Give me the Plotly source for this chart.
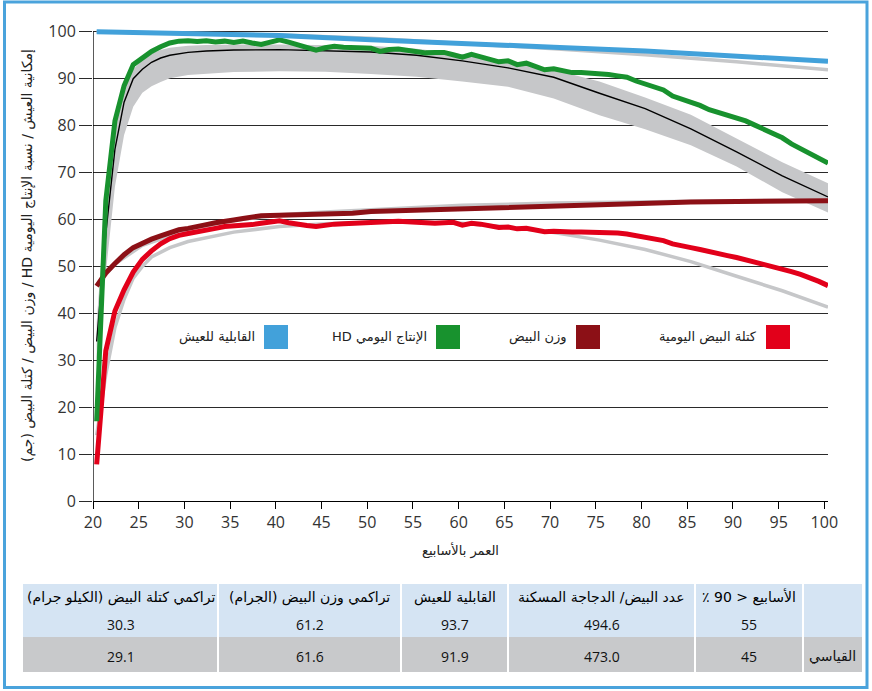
import plotly.graph_objects as go

# --- data (age in weeks) ---
weeks = list(range(20, 101))

hd_pct = [17, 64, 81, 88.5, 93, 94.5, 95.8, 96.8, 97.6, 98.0,
          98.1, 97.9, 98.1, 97.8, 98.0, 97.7, 98.0, 97.6, 97.3, 97.8,
          98.3, 97.8, 97.2, 96.7, 96.1, 96.6, 96.9, 96.7, 96.7, 96.6,
          96.5, 95.8, 96.2, 96.3, 96.0, 95.7, 95.5, 95.6, 95.6, 95.1,
          94.6, 95.2, 94.6, 94.0, 93.6, 93.8, 93.0, 93.3, 92.6, 91.9,
          92.1, 91.7, 91.3, 91.3, 91.2, 91.2, 90.9, 90.6, 90.3, 89.5,
          88.9, 88.3, 87.6, 86.3, 85.6, 85.1, 84.3, 83.4, 82.8, 82.4,
          81.8, 81.0, 80.1, 79.2, 78.3, 77.4, 76.1, 75.1, 74.3, 73.2,
          72.0]

egg_mass = [7.8, 32.0, 40.5, 45.0, 48.8, 51.5, 53.3, 54.8, 55.9, 56.6,
            57.0, 57.3, 57.7, 58.1, 58.5, 58.6, 58.8, 58.9, 59.2, 59.5,
            59.7, 59.3, 58.9, 58.7, 58.5, 58.8, 59.0, 59.1, 59.2, 59.1,
            59.3, 59.4, 59.6, 59.6, 59.5, 59.3, 59.3, 59.2, 59.3, 59.4,
            58.8, 59.2, 59.0, 58.6, 58.3, 58.4, 58.0, 58.1, 57.8, 57.4,
            57.5, 57.3, 57.3, 57.3, 57.3, 57.3, 57.2, 57.1, 56.9, 56.6,
            56.2, 55.9, 55.5, 54.8, 54.3, 54.0, 53.6, 53.1, 52.7, 52.3,
            51.9, 51.4, 51.0, 50.6, 50.0, 49.5, 48.9, 48.3, 47.6, 46.8,
            45.9]

ew_weeks = [20, 21, 22, 23, 24, 25, 26, 27, 28, 29, 30, 31, 32, 33, 34, 35, 36, 37, 38,
            40, 45, 48, 50, 55, 60, 65, 70, 75, 80, 85, 90, 95, 100]
egg_weight = [45.8, 48.6, 50.6, 52.5, 54.0, 55.0, 55.8, 56.5, 57.2, 57.8, 58.1, 58.4,
              58.9, 59.3, 59.7, 59.9, 60.2, 60.5, 60.8, 60.9, 61.1, 61.3, 61.7, 62.0,
              62.2, 62.5, 62.9, 63.2, 63.5, 63.7, 63.8, 63.9, 64.0]

liv_weeks = [20, 30, 40, 50, 60, 70, 80, 90, 100]
livability = [100, 99.6, 99.2, 98.3, 97.4, 96.7, 95.9, 94.9, 93.7]

# standard (gray) curves
std_liv = [100, 99.7, 99.3, 98.6, 97.5, 96.4, 95.1, 93.6, 91.9]

std_ew_weeks = [20, 22, 25, 30, 35, 40, 45, 50, 55, 60, 70, 80, 90, 100]
std_egg_weight = [46, 50.5, 54.5, 57.8, 59.8, 61.0, 61.6, 62.1, 62.6, 63.0, 63.5, 63.8, 64.0, 64.2]

std_em_weeks = [20, 21, 22, 23, 24, 25, 26, 28, 30, 35, 40, 45, 50, 55, 60, 65, 70, 75,
                80, 85, 90, 95, 100]
std_egg_mass = [14, 27, 37, 43, 47.5, 50, 52, 54, 55.3, 57.3, 58.5, 59.1, 59.4, 59.5,
                59.2, 58.4, 57.2, 55.6, 53.6, 51.0, 47.9, 44.8, 41.3]

std_hd_weeks = [20, 21, 22, 23, 24, 25, 26, 27, 28, 30, 32, 35, 40, 45, 50, 55, 60, 65,
                70, 75, 80, 85, 90, 95, 100]
std_hd = [34, 57, 75, 85, 90, 92, 93.5, 94.4, 95.0, 95.6, 95.9, 96.1, 96.2, 96.0, 95.7,
          95.0, 93.8, 92.3, 90.3, 86.9, 83.6, 79.3, 74.4, 69.3, 64.8]
std_hd_upper = [38, 65, 80, 88, 92, 94, 95.3, 96.1, 96.6, 97.0, 97.2, 97.3, 97.3, 97.2,
                97.0, 96.4, 95.2, 93.8, 91.9, 89.4, 86.0, 82.3, 77.3, 72.2, 67.7]
std_hd_lower = [30, 48, 67, 78, 84, 87, 88.4, 89.3, 90.1, 90.8, 91.1, 91.4, 91.6, 91.5,
                91.0, 90.4, 89.4, 88.3, 85.8, 82.2, 79.2, 75.8, 71.3, 65.8, 61.5]

legend_labels = ["كتلة البيض اليومية", "وزن البيض", "الإنتاج اليومي HD", "القابلية للعيش"]

table_header = ["", "الأسابيع < 90 ٪", "عدد البيض/ الدجاجة المسكنة", "القابلية للعيش",
                "تراكمي وزن البيض (الجرام)", "تراكمي كتلة البيض (الكيلو جرام)"]
table_row1 = ["", "55", "494.6", "93.7", "61.2", "30.3"]
table_row2 = ["القياسي", "45", "473.0", "91.9", "61.6", "29.1"]

# --- styling ---
BLUE = "#42a1da"
GREEN = "#18922e"
DARKRED = "#8c1016"
RED = "#e2001a"
LGRAY = "#c6c7c9"
ARFONT = "DejaVu Sans"
NUMFONT = "Open Sans"

W, H = 872, 691
L, R, T, B = 93, 44, 28, 190
PW, PH = W - L - R, H - T - B


def px_x(p):
    return (p - L) / PW


def px_y(p):
    return (H - B - p) / PH


def rtl(s):
    return "\u202b" + s + "\u202c"


def mid(ws):
    # points are drawn at mid-week
    return [w + 0.4 for w in ws]


fig = go.Figure()

# standard HD band + line
fig.add_trace(go.Scatter(x=mid(std_hd_weeks), y=std_hd_upper, mode="lines",
                         line=dict(width=0, color=LGRAY), hoverinfo="skip"))
fig.add_trace(go.Scatter(x=mid(std_hd_weeks), y=std_hd_lower, mode="lines", fill="tonexty",
                         fillcolor=LGRAY, line=dict(width=0, color=LGRAY), hoverinfo="skip"))

for xs, ys in [(liv_weeks, std_liv), (std_ew_weeks, std_egg_weight), (std_em_weeks, std_egg_mass)]:
    fig.add_trace(go.Scatter(x=mid(xs), y=ys, mode="lines",
                             line=dict(width=3.5, color=LGRAY)))

fig.add_trace(go.Scatter(x=mid(std_hd_weeks), y=std_hd, mode="lines",
                         line=dict(width=1.4, color="black")))

fig.add_trace(go.Scatter(x=mid(ew_weeks), y=egg_weight, mode="lines",
                         line=dict(width=5, color=DARKRED)))
fig.add_trace(go.Scatter(x=mid(weeks), y=egg_mass, mode="lines",
                         line=dict(width=5, color=RED)))
fig.add_trace(go.Scatter(x=mid(weeks), y=hd_pct, mode="lines",
                         line=dict(width=5, color=GREEN)))
fig.add_trace(go.Scatter(x=mid(liv_weeks), y=livability, mode="lines",
                         line=dict(width=5, color=BLUE)))

shapes = []
annotations = []

# y axis line
shapes.append(dict(type="line", xref="x", yref="y", x0=20, x1=20, y0=0, y1=100,
                   line=dict(color="black", width=1.3)))

# outer frame
shapes.append(dict(type="rect", xref="paper", yref="paper", x0=px_x(4.5), x1=px_x(867),
                   y0=px_y(687.5), y1=px_y(2), line=dict(color="#4aa3dc", width=3)))

# legend
leg_colors = [RED, DARKRED, GREEN, BLUE]
leg_left = [766, 576, 436, 264]
for lab, col, lx in zip(legend_labels, leg_colors, leg_left):
    shapes.append(dict(type="rect", xref="paper", yref="paper", x0=px_x(lx), x1=px_x(lx + 24),
                       y0=px_y(349), y1=px_y(325), fillcolor=col, line=dict(width=0)))
    annotations.append(dict(xref="paper", yref="paper", x=px_x(lx - 7), y=px_y(337),
                            xanchor="right", yanchor="middle", showarrow=False, text=rtl(lab),
                            font=dict(family=ARFONT, size=13, color="#222")))

# axis titles
annotations.append(dict(xref="paper", yref="paper", x=px_x(460), y=px_y(550), showarrow=False,
                        text=rtl("العمر بالأسابيع"), xanchor="center", yanchor="middle",
                        font=dict(family=ARFONT, size=13, color="#222")))
annotations.append(dict(xref="paper", yref="paper", x=px_x(27), y=px_y(256), showarrow=False,
                        textangle=-90, xanchor="center", yanchor="middle",
                        text=rtl("إمكانية العيش / نسبة الإنتاج اليومية HD / وزن البيض / كتلة البيض (جم)"),
                        font=dict(family=ARFONT, size=14, color="#222")))

# table
col_edges = [862, 803, 695, 508, 401, 218, 23]
row_edges = [584, 610, 637, 672]
row_text_y = [597, 624, 656]
row_fill = ["#d5e4f3", "#d5e4f3", "#c8c9cb"]
rows = [table_header, table_row1, table_row2]
for ri in range(3):
    for ci in range(6):
        x_r, x_l = col_edges[ci], col_edges[ci + 1]
        shapes.append(dict(type="rect", xref="paper", yref="paper", x0=px_x(x_l), x1=px_x(x_r),
                           y0=px_y(row_edges[ri + 1]), y1=px_y(row_edges[ri]),
                           fillcolor=row_fill[ri], line=dict(width=0), layer="below"))
        txt = rows[ri][ci]
        if txt:
            is_num = txt.replace(".", "").isdigit()
            annotations.append(dict(
                xref="paper", yref="paper", x=px_x((x_l + x_r) / 2), y=px_y(row_text_y[ri]),
                showarrow=False, xanchor="center", yanchor="middle",
                text=txt if is_num else rtl(txt),
                font=dict(family=NUMFONT if is_num else ARFONT, size=14,
                          color="#000" if ri == 0 else "#111")))
# white column separators
for xe in col_edges[1:-1]:
    shapes.append(dict(type="line", xref="paper", yref="paper", x0=px_x(xe), x1=px_x(xe),
                       y0=px_y(672), y1=px_y(584), line=dict(color="white", width=2)))

fig.update_layout(
    width=W, height=H,
    margin=dict(l=L, r=R, t=T, b=B),
    paper_bgcolor="white", plot_bgcolor="white",
    showlegend=False,
    shapes=shapes, annotations=annotations,
    xaxis=dict(range=[20, 100.4], tickvals=list(range(20, 101, 5)), showgrid=False,
               zeroline=False, showline=True, linecolor="black", linewidth=1.3,
               ticks="outside", ticklen=7, tickcolor="black", tickwidth=1.2,
               tickfont=dict(family=NUMFONT, size=16, color="#333")),
    yaxis=dict(range=[0, 100.8], tickvals=list(range(0, 101, 10)), showgrid=True,
               gridcolor="#2a2a2a", gridwidth=1.1, zeroline=False,
               ticks="outside", ticklen=13, tickcolor="#2a2a2a", tickwidth=1.1,
               tickfont=dict(family=NUMFONT, size=16, color="#333")),
)

fig.write_html("out.html", config={"displayModeBar": False},
               post_script="document.body.style.margin='0';")
